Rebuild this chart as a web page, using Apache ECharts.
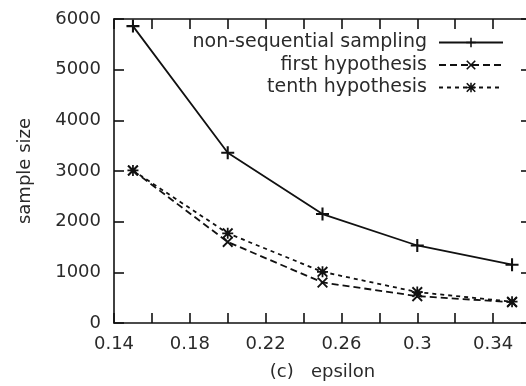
<!DOCTYPE html>
<html>
<head>
<meta charset="utf-8">
<script src="https://cdn.jsdelivr.net/npm/echarts@6/dist/echarts.min.js"></script>
<style>
  html, body { margin: 0; padding: 0; background: #fff; }
  #chart { width: 526px; height: 386px; }
</style>
</head>
<body>
<div id="chart"></div>
<script>
// data
const epsilon = [0.15, 0.2, 0.25, 0.3, 0.35];
const nonSequential = [5860, 3360, 2150, 1530, 1150];
const firstHypothesis = [3010, 1600, 800, 530, 410];
const tenthHypothesis = [3010, 1770, 1010, 610, 420];
const seriesNames = ["non-sequential sampling", "first hypothesis", "tenth hypothesis"];

const FONT = "DejaVu Sans";
const INK = "#111";
const TEXT = "#2a2a2a";

// marker shapes (filled paths so they scale cleanly)
const plusPath = "path://M4.2,0 H5.8 V10 H4.2 Z M0,4.2 H10 V5.8 H0 Z";
const crossPath = "path://M0,1.2 L1.2,0 L10,8.8 L8.8,10 Z M8.8,0 L10,1.2 L1.2,10 L0,8.8 Z";
const starPath = "path://M4.2,0 H5.8 V10 H4.2 Z M0,4.2 H10 V5.8 H0 Z M0,1.2 L1.2,0 L10,8.8 L8.8,10 Z M8.8,0 L10,1.2 L1.2,10 L0,8.8 Z";

function pairs(ys) {
  return epsilon.map((x, i) => [x, ys[i]]);
}

let chart = echarts.init(document.getElementById("chart"));

const xBase = {
  type: "value",
  min: 0.14,
  max: 0.36,
  interval: 0.02,
  splitLine: { show: false },
  axisLine: { onZero: false, lineStyle: { color: INK, width: 1.6 } },
  axisTick: { inside: true, length: 10, lineStyle: { color: INK, width: 1.6 } },
};
const yBase = {
  type: "value",
  min: 0,
  max: 6000,
  interval: 1000,
  splitLine: { show: false },
  axisLine: { show: true, onZero: false, lineStyle: { color: INK, width: 1.6 } },
  axisTick: { show: true, inside: true, length: 10, lineStyle: { color: INK, width: 1.6 } },
};

let option = {
  animation: false,
  // plot runs past the right edge of the picture, as in the reference
  grid: { left: 114, top: 19, width: 417, bottom: 63, outerBoundsMode: "none", containLabel: false },
  legend: {
    orient: "vertical",
    right: 17,
    top: 28,
    align: "right",
    itemWidth: 64,
    itemHeight: 12,
    itemGap: 3.5,
    textStyle: { fontFamily: FONT, fontSize: 19, color: TEXT, padding: [0, 7, 0, 0] },
    data: seriesNames,
  },
  xAxis: [
    Object.assign({}, xBase, {
      position: "bottom",
      name: "(c)   epsilon",
      nameLocation: "middle",
      nameGap: 40,
      nameTextStyle: { fontFamily: FONT, fontSize: 18, color: TEXT },
      axisLabel: {
        fontFamily: FONT,
        fontSize: 18,
        color: TEXT,
        margin: 12,
        formatter: function (v) {
          let k = Math.round((v - 0.14) / 0.02);
          return k % 2 === 0 ? String(Number(v.toFixed(2))) : "";
        },
      },
    }),
    Object.assign({}, xBase, { position: "top", axisLabel: { show: false } }),
  ],
  yAxis: [
    Object.assign({}, yBase, {
      position: "left",
      name: "sample size",
      nameLocation: "middle",
      nameGap: 80,
      nameTextStyle: { fontFamily: FONT, fontSize: 18, color: TEXT },
      axisLabel: {
        fontFamily: FONT,
        fontSize: 18,
        color: TEXT,
        margin: 13,
        formatter: (v) => String(v),
      },
    }),
    Object.assign({}, yBase, { position: "right", axisLabel: { show: false } }),
  ],
  series: [
    {
      name: seriesNames[0],
      type: "line",
      data: pairs(nonSequential),
      symbol: plusPath,
      symbolSize: 13,
      itemStyle: { color: INK },
      lineStyle: { color: INK, width: 1.8, type: "solid" },
    },
    {
      name: seriesNames[1],
      type: "line",
      data: pairs(firstHypothesis),
      symbol: crossPath,
      symbolSize: 11,
      itemStyle: { color: INK },
      lineStyle: { color: INK, width: 1.8, type: [7, 4] },
    },
    {
      name: seriesNames[2],
      type: "line",
      data: pairs(tenthHypothesis),
      symbol: starPath,
      symbolSize: 11,
      itemStyle: { color: INK },
      lineStyle: { color: INK, width: 1.8, type: [4, 4] },
    },
  ],
};

chart.setOption(option);
</script>
</body>
</html>
